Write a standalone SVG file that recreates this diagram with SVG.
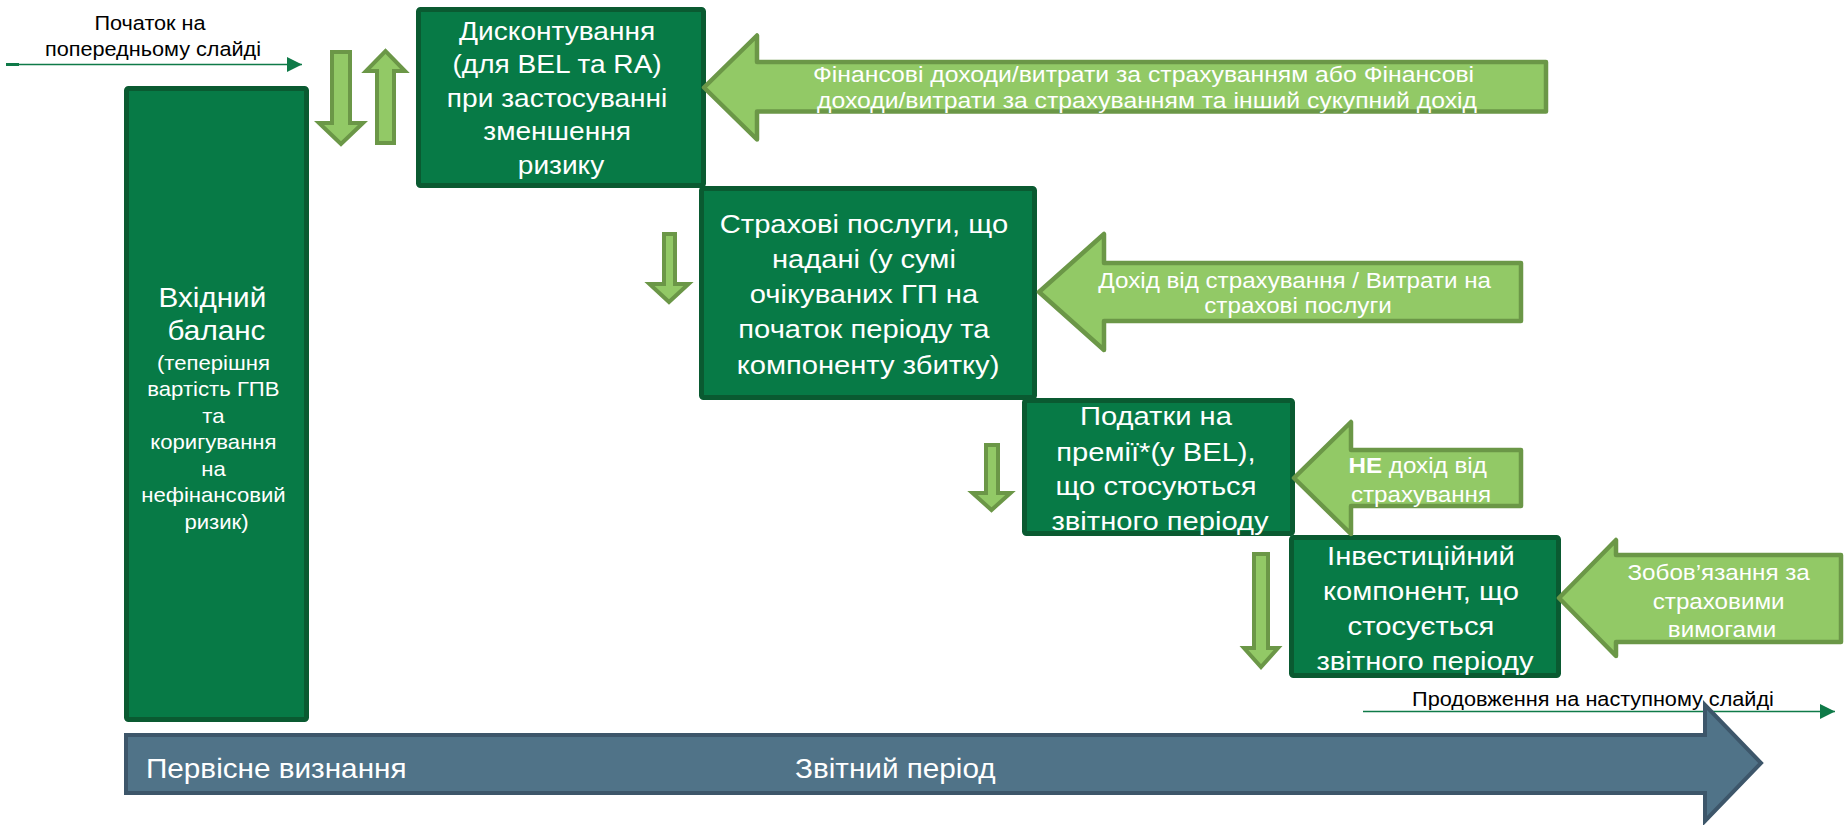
<svg xmlns="http://www.w3.org/2000/svg" width="1846" height="825" viewBox="0 0 1846 825">
  <style>
    .box { fill: #077a46; stroke: #0a5a31; stroke-width: 5; }
    .tag { fill: #92c966; stroke: #6b9747; stroke-width: 4.5; stroke-linejoin: round; }
    .flow { fill: #92c966; stroke: #6b9747; stroke-width: 4; }
    .lead { stroke: #0f7a48; stroke-width: 1.6; fill: none; }
    .band { fill: #507388; stroke: #3d566a; stroke-width: 4; stroke-linejoin: miter; }
    text { font-family: "Liberation Sans", Arial, sans-serif; }
    .tb { fill: #ffffff; font-size: 26.5px; text-anchor: middle; }
    .tb1 { fill: #ffffff; font-size: 26px; text-anchor: middle; }
    .tbig { fill: #ffffff; font-size: 27.5px; text-anchor: middle; }
    .tsmall { fill: #ffffff; font-size: 20.5px; text-anchor: middle; }
    .ta { fill: #ffffff; font-size: 22px; text-anchor: middle; }
    .ta1 { fill: #ffffff; font-size: 22.5px; text-anchor: middle; }
    .ta4 { fill: #ffffff; font-size: 22px; text-anchor: middle; }
    .tn { fill: #000000; font-size: 19.7px; text-anchor: middle; }
    .tt { fill: #ffffff; font-size: 27px; }
  </style>
  <defs>
    <marker id="lead-head" markerUnits="userSpaceOnUse" markerWidth="16" markerHeight="16" refX="15" refY="7.5" orient="auto">
      <path d="M0,0 L15,7.5 L0,15 Z" fill="#0f7a48"/>
    </marker>
  </defs>

  <rect width="1846" height="825" fill="#ffffff"/>

  <!-- connectors: thin lead arrows and the block arrows between steps -->
  <g id="connectors">
    <rect x="6" y="63" width="13" height="3" fill="#0f7a48"/>
    <line class="lead" x1="6" y1="64.5" x2="302" y2="64.5" marker-end="url(#lead-head)"/>
    <line class="lead" x1="1363" y1="711.5" x2="1835" y2="711.5" marker-end="url(#lead-head)"/>
    <path class="flow" d="M332,52 L350,52 L350,123 L363,123 L341,144 L319,123 L332,123 Z"/>
    <path class="flow" d="M377,143 L394,143 L394,71 L405,71 L385.5,51 L366,71 L377,71 Z"/>
    <path class="flow" d="M664,234 L675,234 L675,284 L688.5,284 L669,302 L649.5,284 L664,284 Z"/>
    <path class="flow" d="M986,445 L998,445 L998,493 L1010.5,493 L991.5,510 L972.5,493 L986,493 Z"/>
    <path class="flow" d="M1254,554 L1268,554 L1268,648 L1278,648 L1261,667 L1244,648 L1254,648 Z"/>
  </g>

  <!-- opening balance column -->
  <g id="opening-balance">
    <rect class="box" x="126.5" y="88.5" width="180" height="631" rx="2"/>
    <text class="tbig" transform="translate(216.5 0) scale(1.08 1)">
      <tspan x="0" y="307">Вхідний</tspan>
      <tspan x="0" y="340">баланс</tspan>
    </text>
    <text class="tsmall" transform="translate(216.5 0) scale(1.08 1)">
      <tspan x="0" y="370">(теперішня</tspan>
      <tspan x="0" y="396.5">вартість ГПВ</tspan>
      <tspan x="0" y="423">та</tspan>
      <tspan x="0" y="449.5">коригування</tspan>
      <tspan x="0" y="476">на</tspan>
      <tspan x="0" y="502.5">нефінансовий</tspan>
      <tspan x="0" y="529">ризик)</tspan>
    </text>
  </g>

  <!-- step boxes -->
  <g id="insurance-services">
    <rect class="box" x="701.5" y="188.5" width="333" height="209" rx="2"/>
    <text class="tb" transform="translate(868 0) scale(1.1 1)">
      <tspan x="0" y="233">Страхові послуги, що</tspan>
      <tspan x="0" y="268.5">надані (у сумі</tspan>
      <tspan x="0" y="303.5">очікуваних ГП на</tspan>
      <tspan x="0" y="338.5">початок періоду та</tspan>
      <tspan x="0" y="374">компоненту збитку)</tspan>
    </text>
  </g>

  <g id="discounting">
    <rect class="box" x="418.5" y="9.5" width="285" height="176" rx="2"/>
    <text class="tb1" transform="translate(561 0) scale(1.08 1)">
      <tspan x="0" y="40">Дисконтування</tspan>
      <tspan x="0" y="73.5">(для BEL та RA)</tspan>
      <tspan x="0" y="107">при застосуванні</tspan>
      <tspan x="0" y="140.5">зменшення</tspan>
      <tspan x="0" y="174">ризику</tspan>
    </text>
  </g>

  <g id="premium-taxes">
    <rect class="box" x="1024.5" y="400.5" width="268" height="133" rx="2"/>
    <text class="tb" transform="translate(1160 0) scale(1.1 1)">
      <tspan x="0" y="425">Податки на</tspan>
      <tspan x="0" y="461">премії*(у BEL),</tspan>
      <tspan x="0" y="495.5">що стосуються</tspan>
      <tspan x="0" y="530">звітного періоду</tspan>
    </text>
  </g>

  <g id="investment-component">
    <rect class="box" x="1291.5" y="537.5" width="267" height="138" rx="2"/>
    <text class="tb" transform="translate(1425 0) scale(1.1 1)">
      <tspan x="0" y="565">Інвестиційний</tspan>
      <tspan x="0" y="600">компонент, що</tspan>
      <tspan x="0" y="635">стосується</tspan>
      <tspan x="0" y="670">звітного періоду</tspan>
    </text>
  </g>

  <!-- labelled arrows pointing into the steps -->
  <g id="finance-income">
    <path class="tag" d="M704,87.5 L757,35.5 L757,62 L1546,62 L1546,111.5 L757,111.5 L757,139.5 Z"/>
    <text class="ta1" transform="translate(1147 0) scale(1.1 1)">
      <tspan x="0" y="82.5">Фінансові доходи/витрати за страхуванням або Фінансові</tspan>
      <tspan x="0" y="108">доходи/витрати за страхуванням та інший сукупний дохід</tspan>
    </text>
  </g>

  <g id="insurance-revenue">
    <path class="tag" d="M1039,292 L1104,234 L1104,263 L1521,263 L1521,321 L1104,321 L1104,350 Z"/>
    <text class="ta" transform="translate(1298 0) scale(1.1 1)">
      <tspan x="0" y="288">Дохід від страхування / Витрати на</tspan>
      <tspan x="0" y="313">страхові послуги</tspan>
    </text>
  </g>

  <g id="not-revenue">
    <path class="tag" d="M1294,478 L1351,422 L1351,450 L1521,450 L1521,506 L1351,506 L1351,534 Z"/>
    <text class="ta" transform="translate(1421 0) scale(1.1 1)">
      <tspan x="0" y="473"><tspan font-weight="bold">НЕ</tspan> дохід від</tspan>
      <tspan x="0" y="502">страхування</tspan>
    </text>
  </g>

  <g id="claims-liability">
    <path class="tag" d="M1559,598 L1616,540 L1616,555 L1841,555 L1841,642 L1616,642 L1616,656 Z"/>
    <text class="ta4" transform="translate(1722 0) scale(1.1 1)">
      <tspan x="0" y="580">Зобов’язання за</tspan>
      <tspan x="0" y="609">страховими</tspan>
      <tspan x="0" y="637">вимогами</tspan>
    </text>
  </g>

  <!-- side notes -->
  <g id="note-previous">
    <text class="tn" transform="translate(153 0) scale(1.1 1)">
      <tspan x="0" y="30.5">Початок на</tspan>
      <tspan x="0" y="56">попередньому слайді</tspan>
    </text>
  </g>
  <g id="note-next">
    <text class="tn" x="0" y="706" transform="translate(1593 0) scale(1.1 1)">Продовження на наступному слайді</text>
  </g>

  <!-- time axis -->
  <g id="timeline">
    <path class="band" d="M126,735 L1705,735 L1705,705 L1761,763 L1705,821 L1705,793 L126,793 Z"/>
    <text class="tt" x="0" y="778" transform="translate(146 0) scale(1.1 1)">Первісне визнання</text>
    <text class="tt" x="0" y="778" transform="translate(795 0) scale(1.1 1)">Звітний період</text>
  </g>
</svg>
